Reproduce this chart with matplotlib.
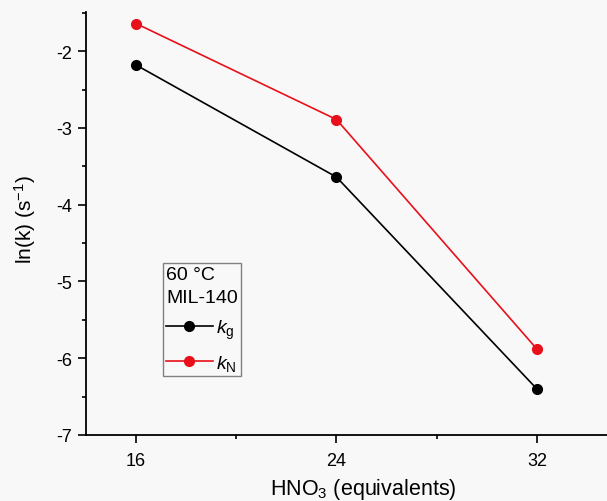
import numpy as np
import matplotlib
matplotlib.use('Agg')
import matplotlib.pyplot as plt
from matplotlib.ticker import MultipleLocator

plt.rcParams['font.family'] = ['Liberation Sans', 'DejaVu Sans']
plt.rcParams['mathtext.fontset'] = 'custom'
plt.rcParams['mathtext.rm'] = 'Liberation Sans'
plt.rcParams['mathtext.it'] = 'Liberation Sans:italic'
plt.rcParams['axes.unicode_minus'] = False

# data
hno3 = [16, 24, 32]
ln_kg = [-2.18, -3.64, -6.40]
ln_kN = [-1.64, -2.89, -5.88]
legend_title = '60 °C\nMIL-140'

fig = plt.figure(figsize=(6.07, 5.02), dpi=100, facecolor='#f8f8f8')
ax = fig.add_axes([0.1417, 0.1315, 0.8583, 0.8425])
ax.set_facecolor('#f8f8f8')

ax.plot(hno3, ln_kg, color='black', marker='o', markersize=7, lw=1.2, label=r'$k_{\mathrm{g}}$')
ax.plot(hno3, ln_kN, color='#e8101a', marker='o', markersize=7, lw=1.2, label=r'$k_{\mathrm{N}}$')

ax.set_xlim(14, 34.8)
ax.set_ylim(-7, -1.49)
ax.xaxis.set_major_locator(MultipleLocator(8))
ax.xaxis.set_minor_locator(MultipleLocator(4))
ax.yaxis.set_major_locator(MultipleLocator(1))
ax.yaxis.set_minor_locator(MultipleLocator(0.5))

for s in ['top', 'right']:
    ax.spines[s].set_visible(False)
for s in ['left', 'bottom']:
    ax.spines[s].set_linewidth(1.3)
ax.tick_params(which='major', direction='out', length=6, width=1.2, labelsize=13)
ax.tick_params(axis='x', which='major', pad=6)
ax.tick_params(axis='y', which='major', pad=4)
ax.tick_params(which='minor', direction='out', length=3, width=1.2)

ax.set_xlabel(r'HNO$_3$ (equivalents)', fontsize=15.5)
ax.set_ylabel(r'ln(k) (s$^{-1}$)', fontsize=15)
ax.xaxis.set_label_coords(0.532, -0.097)
ax.yaxis.set_label_coords(-0.092, 0.511)

leg = ax.legend(title=legend_title, loc='upper left', bbox_to_anchor=(163 / 607, 1 - 264 / 502),
                bbox_transform=fig.transFigure, fontsize=14, title_fontsize=14,
                fancybox=False, framealpha=1, edgecolor='#808080', facecolor='#f8f8f8',
                handlelength=2.4, borderpad=0.15, labelspacing=0.6, handletextpad=0.2,
                borderaxespad=0)
leg._legend_box.align = 'left'
leg.get_title().set_linespacing(1.5)
leg.get_frame().set_linewidth(1.0)

fig.savefig('out.png', dpi=100, facecolor=fig.get_facecolor())
